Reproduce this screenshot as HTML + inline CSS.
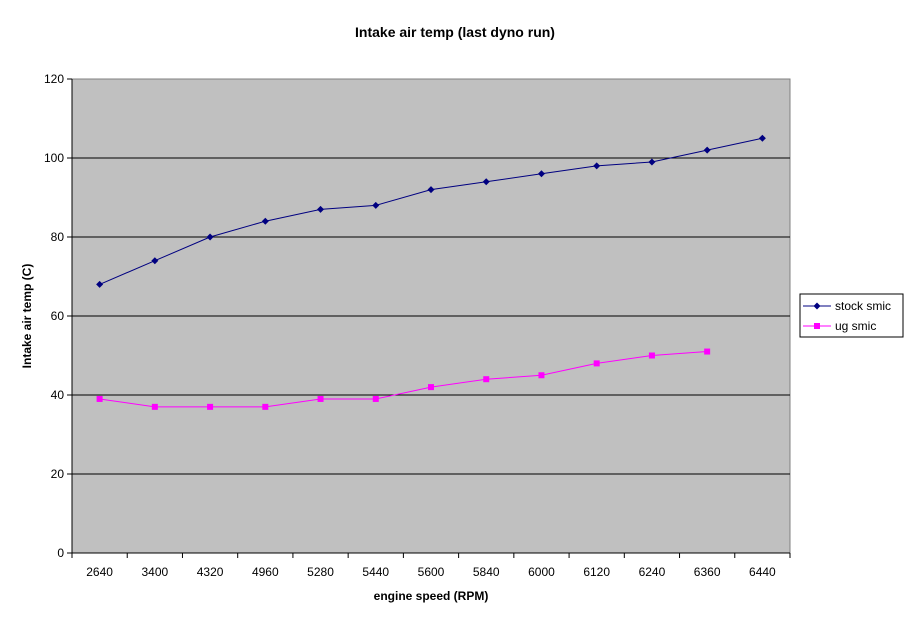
<!DOCTYPE html>
<html><head><meta charset="utf-8"><style>
body{margin:0;background:#fff}
svg text{font-family:"Liberation Sans",Arial,sans-serif;fill:#000}
</style></head><body>
<svg id="c" width="911" height="623" xmlns="http://www.w3.org/2000/svg">
<text x="455" y="37" text-anchor="middle" font-size="14" font-weight="bold">Intake air temp (last dyno run)</text>
<rect x="72" y="79" width="718" height="474" fill="#c0c0c0" stroke="#808080"/>
<g id="grid"></g><g id="axes"></g><g id="series"></g>
<text x="431" y="600" text-anchor="middle" font-size="12" font-weight="bold">engine speed (RPM)</text>
<text transform="translate(31,316) rotate(-90)" text-anchor="middle" font-size="12" font-weight="bold">Intake air temp (C)</text>
<g>
<rect x="800" y="294" width="103" height="43" fill="#fff" stroke="#000"/>
<g>
<line x1="803" y1="306" x2="831" y2="306" stroke="#000080"/>
<path d="M817 302.5L820.5 306L817 309.5L813.5 306Z" fill="#000080"/>
<text x="835" y="310" font-size="12">stock smic</text></g>
<g>
<line x1="803" y1="326" x2="831" y2="326" stroke="#ff00ff"/>
<rect x="814" y="323" width="6" height="6" fill="#ff00ff"/>
<text x="835" y="330" font-size="12">ug smic</text></g>
</g>
</svg>
<script>
const categories=["2640","3400","4320","4960","5280","5440","5600","5840","6000","6120","6240","6360","6440"];
const stockSmic=[68,74,80,84,87,88,92,94,96,98,99,102,105];
const ugSmic=[39,37,37,37,39,39,42,44,45,48,50,51];
const yTicks=[0,20,40,60,80,100,120];
const NS="http://www.w3.org/2000/svg";
const X0=72,W=718,Y0=553,H=474,YMAX=120;
const bw=W/categories.length;
const xS=i=>X0+bw*(i+0.5);
const yS=v=>Y0-v/YMAX*H;
function mk(tag,attrs,parent){const e=document.createElementNS(NS,tag);for(const k in attrs)e.setAttribute(k,attrs[k]);parent.appendChild(e);return e;}
const grid=document.getElementById('grid'),axes=document.getElementById('axes'),series=document.getElementById('series');
yTicks.forEach(t=>{const y=yS(t);
 if(t>0&&t<YMAX){const g=mk('line',{x1:X0,x2:X0+W,y1:y,y2:y,stroke:'#000'},grid);
 
 }
 mk('line',{x1:X0-5,x2:X0,y1:y,y2:y,stroke:'#000'},axes);
 const tx=mk('text',{x:X0-8,y:y+4,'text-anchor':'end','font-size':'12'},axes);tx.textContent=t;
 
 
});
mk('line',{x1:X0,x2:X0,y1:Y0-H,y2:Y0,stroke:'#000'},axes);
mk('line',{x1:X0,x2:X0+W,y1:Y0,y2:Y0,stroke:'#000'},axes);
for(let i=0;i<=categories.length;i++){mk('line',{x1:X0+bw*i,x2:X0+bw*i,y1:Y0,y2:Y0+5,stroke:'#000'},axes);}
categories.forEach((c,i)=>{const t=mk('text',{x:xS(i),y:Y0+23,'text-anchor':'middle','font-size':'12'},axes);t.textContent=c;
 
 });
function draw(vals,color,marker,name){
 const p=mk('polyline',{points:vals.map((v,i)=>xS(i)+','+yS(v)).join(' '),fill:'none',stroke:color},series);
 
 
 vals.forEach((v,i)=>{const x=xS(i),y=yS(v);let m;
  if(marker==='d')m=mk('path',{d:`M${x} ${y-3.5}L${x+3.5} ${y}L${x} ${y+3.5}L${x-3.5} ${y}Z`,fill:color},series);
  else m=mk('rect',{x:x-3,y:y-3,width:6,height:6,fill:color},series);
  
  });
}
draw(stockSmic,'#000080','d','stock-smic');
draw(ugSmic,'#ff00ff','s','ug-smic');
</script>
</body></html>
